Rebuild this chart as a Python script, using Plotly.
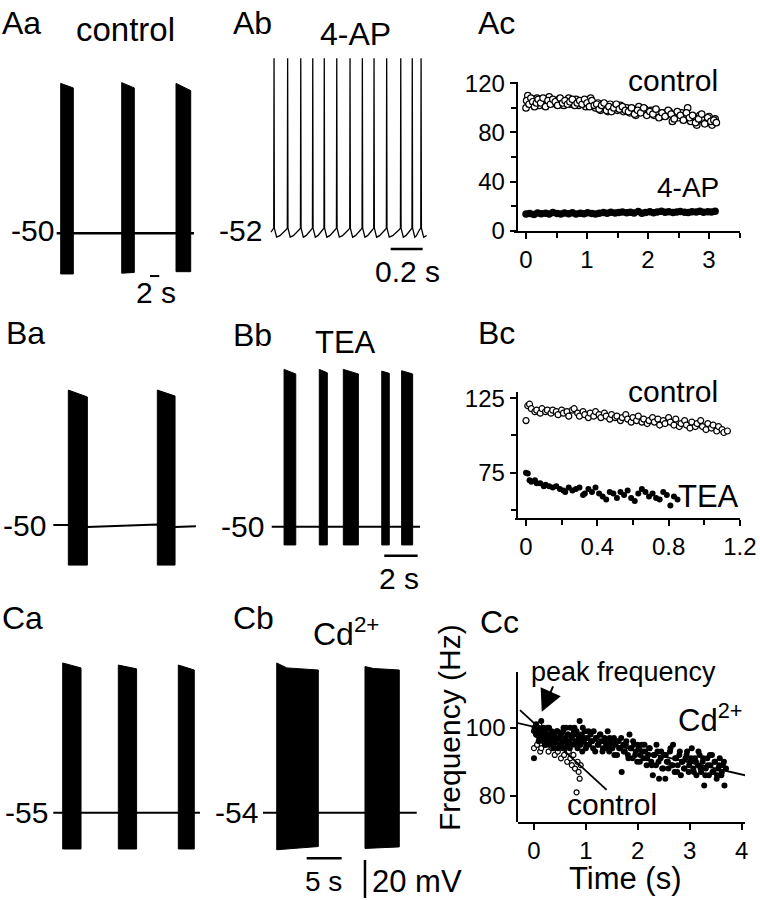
import plotly.graph_objects as go

W, H = 760, 900
FONT = "Liberation Sans, Arial, sans-serif"

# ---------------- DATA ----------------
# Aa: control bursts (time s, membrane potential mV)
aa_start = [0.86, 13.98, 25.66]
aa_end = [3.57, 16.69, 28.82]
aa_top0 = [28.9, 29.3, 28.9]
aa_top1 = [26.5, 26.5, 25.1]
aa_bot0 = [-71.4, -71.0, -70.2]
aa_bot1 = [-71.4, -70.6, -70.2]
aa_base_t = [0.0, 29.53]
aa_base_v = [-50.0, -50.0]
aa_bar_t = [20.06, 22.06]
aa_bar_v = [-72.5, -72.5]

# Ab: 4-AP single spikes
ab_spike_t = [0.019, 0.104, 0.186, 0.261, 0.333, 0.411, 0.494, 0.571, 0.644, 0.723, 0.811, 0.883, 0.938]
ab_spike_peak = 40.0
ab_rest = -52.0
ab_hump = -49.4
ab_ahp = -54.2
ab_end_t = 0.973
ab_bar_t = [0.748, 0.948]
ab_bar_v = [-60.4, -60.4]

# Ba: control bursts
ba_start = [0.90, 6.23]
ba_end = [2.04, 7.29]
ba_top0 = [21.0, 21.0]
ba_top1 = [17.4, 17.9]
ba_bot0 = [-71.1, -71.1]
ba_bot1 = [-71.1, -71.1]
ba_base_t = [0.0, 0.90, 2.04, 6.23, 7.29, 8.54]
ba_base_v = [-50.0, -50.0, -51.0, -49.7, -51.0, -50.6]

# Bb: TEA bursts
bb_start = [0.74, 2.85, 4.29, 6.59, 7.78]
bb_end = [1.44, 3.33, 5.19, 7.04, 8.44]
bb_top0 = [32.8, 32.8, 32.8, 31.9, 32.1]
bb_top1 = [30.4, 31.0, 30.4, 30.7, 30.4]
bb_bot0 = [-59.6, -59.6, -59.6, -59.6, -59.6]
bb_bot1 = [-59.6, -59.6, -59.6, -59.6, -59.6]
bb_base_t = [0.0, 8.88]
bb_base_v = [-50.0, -50.0]
bb_bar_t = [6.74, 8.74]
bb_bar_v = [-65.3, -65.3]

# Ca: control bursts
ca_start = [1.34, 9.29, 17.86]
ca_end = [3.96, 11.90, 20.14]
ca_top0 = [23.8, 22.7, 22.7]
ca_top1 = [21.2, 20.7, 20.1]
ca_bot0 = [-74.1, -74.1, -74.1]
ca_bot1 = [-74.1, -74.1, -74.1]
ca_base_t = [0.0, 20.95]
ca_base_v = [-55.0, -55.0]

# Cb: Cd2+ bursts
cb_start = [1.96, 14.57]
cb_end = [7.90, 19.47]
cb_top0 = [24.8, 22.9]
cb_knee_t = [3.40, 15.80]
cb_knee_v = [22.2, 21.9]
cb_top1 = [21.1, 21.1]
cb_bot0 = [-73.5, -72.8]
cb_bot1 = [-71.8, -72.0]
cb_base_t = [0.0, 21.96]
cb_base_v = [-54.0, -54.0]
cb_tbar_t = [6.24, 11.24]
cb_tbar_v = [-78.0, -78.0]
cb_vbar_t = [14.57, 14.57]
cb_vbar_v = [-78.9, -98.9]

# Ac: frequency vs time (Hz)
ac_ctrl_t = [0.00, 0.03, 0.06, 0.09, 0.12, 0.15, 0.18,
             0.22, 0.26, 0.30, 0.34, 0.38, 0.42, 0.46, 0.50, 0.54, 0.58, 0.62, 0.66, 0.70, 0.74, 0.78,
             0.82, 0.86, 0.90, 0.94, 0.98, 1.02, 1.06, 1.10, 1.14, 1.18, 1.22, 1.26, 1.30, 1.34, 1.38,
             1.42, 1.46, 1.50,
             1.55, 1.60, 1.65, 1.70, 1.75, 1.80, 1.85, 1.90, 1.95, 2.00, 2.05, 2.10, 2.15, 2.20, 2.25,
             2.30, 2.35, 2.40, 2.45, 2.50, 2.55, 2.60, 2.65, 2.70, 2.75, 2.80, 2.85, 2.90, 2.95, 3.00,
             3.05, 3.10]
ac_ctrl_f = [100, 110, 104, 107, 103, 106, 108,
             102, 105, 107, 103, 109, 104, 106, 103, 107, 105, 102, 106, 108, 103, 105,
             107, 102, 104, 106, 101, 105, 108, 103, 100, 104, 98, 102, 100, 97, 103,
             99, 101, 98,
             102, 97, 100, 96, 99, 94, 101, 97, 99, 95, 98, 94, 97, 93, 96,
             94, 97, 89, 95, 92, 96, 91, 100, 89, 93, 86, 94, 90, 88, 93,
             86, 91]
ac_ctrl2_t = [0.01, 0.05, 0.08, 0.11, 0.14, 0.17, 0.20, 0.24, 0.28, 0.32,
              0.36, 0.40, 0.44, 0.48, 0.52, 0.56, 0.60, 0.64, 0.68, 0.72,
              0.76, 0.80, 0.84, 0.88, 0.92, 0.96, 1.00, 1.04, 1.08, 1.12,
              1.16, 1.20, 1.24, 1.28, 1.32, 1.36, 1.40, 1.44, 1.48, 1.53,
              1.58, 1.63, 1.68, 1.73, 1.78, 1.83, 1.88, 1.93, 1.98, 2.03,
              2.08, 2.13, 2.18, 2.23, 2.28, 2.33, 2.38, 2.43, 2.48, 2.53,
              2.58, 2.63, 2.68, 2.73, 2.78, 2.83, 2.88, 2.93, 2.98, 3.03,
              3.08, 3.12]
ac_ctrl2_f = [106, 103, 108, 105, 101, 104, 107, 104, 108, 101,
              106, 103, 107, 105, 102, 108, 104, 106, 103, 105,
              107, 102, 104, 106, 103, 107, 104, 101, 106, 102,
              103, 99, 102, 104, 98, 101, 97, 100, 103, 99,
              101, 98, 97, 100, 95, 98, 96, 100, 94, 97,
              95, 99, 92, 96, 93, 98, 95, 91, 97, 94,
              90, 96, 92, 94, 88, 91, 95, 87, 92, 89,
              90, 88]
ac_4ap_t = [0.00, 0.06, 0.13, 0.19, 0.25, 0.32, 0.38, 0.44, 0.51, 0.57,
            0.63, 0.70, 0.76, 0.82, 0.89, 0.95, 1.01, 1.08, 1.14, 1.20,
            1.27, 1.33, 1.39, 1.46, 1.52, 1.58, 1.65, 1.71, 1.77, 1.84,
            1.90, 1.96, 2.03, 2.09, 2.15, 2.22, 2.28, 2.34, 2.41, 2.47,
            2.53, 2.60, 2.66, 2.72, 2.79, 2.85, 2.91, 2.98, 3.04, 3.10]
ac_4ap_f = [13.5, 14.0, 13.2, 14.5, 13.8, 14.2, 13.6, 14.8, 14.1, 13.7,
            14.4, 13.9, 14.6, 13.5, 14.2, 13.8, 14.7, 14.0, 13.6, 14.3,
            14.9, 14.2, 15.0, 14.4, 14.8, 15.3, 14.6, 15.1, 14.5, 15.6,
            14.2, 14.9, 15.4, 14.7, 15.2, 15.8, 15.0, 15.5, 14.8, 15.3,
            15.7, 15.1, 14.9, 15.4, 15.2, 15.8, 15.0, 15.5, 15.3, 15.9]

# Bc
bc_ctrl_t = [0.00, 0.01, 0.02, 0.03, 0.05, 0.06, 0.08, 0.09, 0.11, 0.12,
             0.14, 0.15, 0.17, 0.18, 0.20, 0.21, 0.23, 0.24, 0.26, 0.27,
             0.29, 0.30, 0.32, 0.33, 0.35, 0.36, 0.38, 0.39, 0.41, 0.42,
             0.44, 0.45, 0.47, 0.48, 0.50, 0.51, 0.53, 0.54, 0.56, 0.57,
             0.59, 0.60, 0.62, 0.63, 0.65, 0.66, 0.68, 0.69, 0.71, 0.72,
             0.74, 0.75, 0.77, 0.78, 0.80, 0.81, 0.83, 0.84, 0.86, 0.87,
             0.89, 0.90, 0.92, 0.93, 0.95, 0.96, 0.98, 0.99, 1.01, 1.02,
             1.04, 1.05, 1.07, 1.08, 1.10, 1.11, 1.13]
bc_ctrl_f = [110, 120, 121, 118, 116, 117, 115, 118, 116, 117,
             115, 117, 116, 114, 117, 115, 116, 113, 117, 118,
             115, 113, 116, 114, 112, 115, 113, 116, 114, 112,
             115, 113, 111, 114, 112, 113, 110, 112, 114, 111,
             109, 112, 110, 113, 109, 111, 108, 110, 112, 109,
             111, 107, 110, 108, 112, 109, 107, 111, 106, 108,
             110, 107, 105, 109, 106, 108, 110, 106, 104, 108,
             105, 107, 103, 106, 104, 102, 103]
bc_tea_t = [0.00, 0.01, 0.02, 0.03, 0.05, 0.06, 0.08, 0.10, 0.11, 0.13,
            0.15, 0.17, 0.19, 0.21, 0.22, 0.24, 0.26, 0.28, 0.30, 0.32,
            0.33, 0.35, 0.37, 0.39, 0.41, 0.43, 0.45, 0.47, 0.49, 0.51,
            0.53, 0.55, 0.57, 0.59, 0.61, 0.63, 0.65, 0.67, 0.69, 0.71,
            0.73, 0.75, 0.77, 0.79, 0.81, 0.83, 0.85]
bc_tea_f = [75, 74.5, 70, 69, 70, 68, 68, 66, 67, 66,
            65, 66, 64, 63, 62, 65, 63, 64, 65, 60,
            61, 64, 62, 65, 61, 59, 57, 62, 61, 58,
            62, 60, 63, 58, 56, 61, 64, 62, 59, 61,
            58, 57, 62, 60, 53, 59, 57]

# Cc
cc_cd_t = [0.00, 0.02, 0.04, 0.06, 0.08, 0.10, 0.12, 0.14, 0.16, 0.18,
           0.20, 0.22, 0.24, 0.26, 0.28, 0.30, 0.32, 0.34, 0.36, 0.38,
           0.40, 0.42, 0.44, 0.46, 0.48, 0.50, 0.52, 0.54, 0.56, 0.58,
           0.60, 0.62, 0.64, 0.66, 0.68, 0.70, 0.72, 0.74, 0.76, 0.78,
           0.80, 0.82, 0.84, 0.86, 0.88, 0.90, 0.92, 0.94, 0.96, 0.98,
           1.00, 1.03, 1.06, 1.09, 1.12, 1.15, 1.18, 1.21, 1.24, 1.27,
           1.30, 1.33, 1.36, 1.39, 1.42, 1.45, 1.48, 1.51, 1.54, 1.57,
           1.60, 1.63, 1.66, 1.69, 1.72, 1.75, 1.78, 1.81, 1.84, 1.87,
           1.90, 1.93, 1.96, 1.99, 2.02, 2.05, 2.08, 2.11, 2.14, 2.17,
           2.20, 2.23, 2.26, 2.29, 2.32, 2.35, 2.38, 2.41, 2.44, 2.47,
           2.50, 2.53, 2.56, 2.59, 2.62, 2.65, 2.68, 2.71, 2.74, 2.77,
           2.80, 2.83, 2.86, 2.89, 2.92, 2.95, 2.98, 3.01, 3.04, 3.07,
           3.10, 3.13, 3.16, 3.19, 3.22, 3.25, 3.28, 3.31, 3.34, 3.37,
           3.40, 3.43, 3.46, 3.49, 3.52, 3.55, 3.58, 3.61, 3.64, 3.67,
           3.70]
cc_cd_f = [91, 99, 101, 98, 100, 97, 99, 102, 98, 100,
           96, 99, 97, 100, 95, 98, 96, 99, 97, 95,
           98, 96, 99, 94, 97, 95, 98, 96, 99, 94,
           97, 100, 95, 98, 96, 100, 97, 95, 98, 100,
           96, 99, 94, 97, 102, 95, 98, 100, 96, 99,
           94, 97, 95, 98, 96, 99, 93, 97, 95, 98,
           96, 94, 97, 95, 99, 93, 96, 94, 97, 95,
           92, 96, 94, 87, 95, 93, 96, 92, 98, 94,
           91, 95, 93, 90, 94, 92, 95, 91, 93, 89,
           92, 94, 90, 86, 92, 89, 93, 85, 91, 88,
           92, 85, 90, 88, 93, 89, 95, 87, 91, 89,
           92, 86, 90, 88, 91, 93, 87, 90, 94, 88,
           91, 86, 89, 92, 87, 90, 83, 88, 91, 86,
           89, 92, 87, 90, 85, 88, 91, 86, 89, 83,
           88]
cc_cd2_t = [0.01, 0.05, 0.09, 0.13, 0.17, 0.21, 0.25, 0.29, 0.33, 0.37,
            0.41, 0.45, 0.49, 0.53, 0.57, 0.61, 0.65, 0.69, 0.73, 0.77,
            0.81, 0.85, 0.89, 0.93, 0.97, 1.01, 1.05, 1.10, 1.14, 1.19,
            1.23, 1.28, 1.32, 1.37, 1.41, 1.46, 1.50, 1.55, 1.59, 1.64,
            1.68, 1.73, 1.77, 1.82, 1.86, 1.91, 1.95, 2.00, 2.04, 2.09,
            2.13, 2.18, 2.22, 2.27, 2.31, 2.36, 2.40, 2.45, 2.49, 2.54,
            2.58, 2.63, 2.67, 2.72, 2.76, 2.81, 2.85, 2.90, 2.94, 2.99,
            3.03, 3.08, 3.12, 3.17, 3.21, 3.26, 3.30, 3.35, 3.39, 3.44,
            3.48, 3.53, 3.57, 3.62, 3.66]
cc_cd2_f = [100, 98, 96, 99, 97, 95, 98, 100, 97, 94,
            96, 99, 97, 95, 100, 96, 98, 94, 97, 99,
            95, 98, 96, 93, 97, 95, 99, 96, 94, 97,
            95, 98, 93, 96, 94, 97, 95, 92, 96, 94,
            97, 93, 95, 91, 94, 96, 92, 95, 90, 93,
            95, 91, 94, 89, 92, 95, 90, 93, 88, 92,
            90, 94, 89, 91, 87, 93, 90, 88, 92, 89,
            91, 87, 90, 93, 88, 91, 86, 89, 92, 87,
            90, 86, 89, 87, 90]
cc_ctrl_t = [0.00, 0.00, 0.02, 0.04, 0.06, 0.08, 0.10, 0.12, 0.12, 0.14,
             0.16, 0.18, 0.20, 0.22, 0.25, 0.28, 0.31, 0.34, 0.37, 0.40,
             0.43, 0.46, 0.49, 0.52, 0.55, 0.58, 0.61, 0.64, 0.67, 0.70,
             0.73, 0.76, 0.79, 0.82, 0.84, 0.86, 0.88, 0.90]
cc_ctrl_f = [94, 99, 100, 98, 95, 99, 101, 93, 97, 94,
             98, 96, 99, 95, 97, 93, 96, 94, 97, 92,
             95, 93, 96, 91, 94, 92, 95, 90, 93, 91,
             89, 92, 88, 81, 90, 87, 85, 89]
cc_cd_fit_t = [-0.43, 4.19]
cc_cd_fit_f = [101.8, 85.6]
cc_ctrl_fit_t = [-0.27, 1.40]
cc_ctrl_fit_f = [105.2, 81.7]
cc_peak_t, cc_peak_f = 0.15, 104.7

# ---------------- FIGURE ----------------
fig = go.Figure()
layout = {}


def trace_axes(n, box, x0px, pps, yrefpx, yref, ppm):
    L, R, T, B = box
    layout[f"xaxis{n}"] = dict(domain=[L / W, R / W], range=[(L - x0px) / pps, (R - x0px) / pps],
                               visible=False, anchor=f"y{n}", fixedrange=True, automargin=False)
    layout[f"yaxis{n}"] = dict(domain=[1 - B / H, 1 - T / H],
                               range=[yref - (B - yrefpx) / ppm, yref + (yrefpx - T) / ppm],
                               visible=False, anchor=f"x{n}", fixedrange=True, automargin=False)


def bursts(starts, ends, top0, top1, bot0, bot1, knee_t=None, knee_v=None):
    xs, ys = [], []
    for i in range(len(starts)):
        xs += [starts[i], starts[i]]
        ys += [bot0[i], top0[i]]
        if knee_t is not None:
            xs.append(knee_t[i]); ys.append(knee_v[i])
        xs += [ends[i], ends[i], starts[i], None]
        ys += [top1[i], bot1[i], bot0[i], None]
    return xs, ys


def add_line(x, y, n, width=2.0):
    fig.add_trace(go.Scatter(x=x, y=y, mode="lines", line=dict(color="black", width=width),
                             xaxis=f"x{n}", yaxis=f"y{n}", hoverinfo="skip", showlegend=False))


def add_bursts(n, xs, ys):
    fig.add_trace(go.Scatter(x=xs, y=ys, mode="lines", fill="toself", fillcolor="black",
                             line=dict(color="black", width=1), xaxis=f"x{n}", yaxis=f"y{n}",
                             hoverinfo="skip", showlegend=False))


# panel 1: Aa
trace_axes(1, (40, 210, 70, 305), 56.7, 4.65, 233.3, -50, 1.9)
add_line(aa_base_t, aa_base_v, 1, 2.5)
add_bursts(1, *bursts(aa_start, aa_end, aa_top0, aa_top1, aa_bot0, aa_bot1))
add_line(aa_bar_t, aa_bar_v, 1, 2)

# panel 2: Ab
trace_axes(2, (262, 440, 45, 285), 271, 160, 233, -52, 1.9)
abx, aby = [0.0], [ab_rest + 0.5]
for i, ts in enumerate(ab_spike_t):
    abx += [ts - 0.010, ts - 0.002, ts, ts + 0.002, ts + 0.016]
    aby += [ab_rest + 1.7, ab_hump, ab_spike_peak, ab_hump, ab_ahp]
    if i + 1 < len(ab_spike_t):
        gap = ab_spike_t[i + 1] - ts
        abx.append(ts + 0.016 + 0.35 * (gap - 0.026))
        aby.append(ab_ahp + 0.8)
abx.append(ab_end_t); aby.append(ab_ahp + 0.9)
add_line(abx, aby, 2, 1.3)
add_line(ab_bar_t, ab_bar_v, 2, 2.5)

# panel 3: Ba
trace_axes(3, (40, 210, 375, 585), 53.3, 16.7, 525, -50, 1.9)
add_line(ba_base_t, ba_base_v, 3, 2)
add_bursts(3, *bursts(ba_start, ba_end, ba_top0, ba_top1, ba_bot0, ba_bot1))

# panel 4: Bb
trace_axes(4, (262, 430, 355, 592), 271.7, 16.7, 526.7, -50, 1.9)
add_line(bb_base_t, bb_base_v, 4, 2)
add_bursts(4, *bursts(bb_start, bb_end, bb_top0, bb_top1, bb_bot0, bb_bot1))
add_line(bb_bar_t, bb_bar_v, 4, 2.5)

# panel 5: Ca
trace_axes(5, (40, 210, 650, 860), 53.3, 7.0, 812.7, -55, 1.9)
add_line(ca_base_t, ca_base_v, 5, 2)
add_bursts(5, *bursts(ca_start, ca_end, ca_top0, ca_top1, ca_bot0, ca_bot1))

# panel 6: Cb
trace_axes(6, (255, 430, 650, 900), 263, 7.0, 812.7, -54, 1.9)
add_line(cb_base_t, cb_base_v, 6, 2)
add_bursts(6, *bursts(cb_start, cb_end, cb_top0, cb_top1, cb_bot0, cb_bot1, cb_knee_t, cb_knee_v))
add_line(cb_tbar_t, cb_tbar_v, 6, 2.5)
add_line(cb_vbar_t, cb_vbar_v, 6, 2.5)

# scatter panels
axis_common = dict(showline=True, linecolor="black", linewidth=2, ticks="outside", ticklen=6,
                   tickwidth=2, tickcolor="black", showgrid=False, zeroline=False, automargin=False,
                   tickfont=dict(family=FONT, size=24, color="black"), fixedrange=True)

layout["xaxis7"] = dict(axis_common, domain=[514 / W, 740 / W], range=[-0.197, 3.508], anchor="y7",
                        tick0=0, dtick=1, minor=dict(dtick=0.5, ticks="outside", ticklen=5, tickwidth=2))
layout["yaxis7"] = dict(axis_common, domain=[1 - 230.7 / H, 1 - 82 / H], range=[0, 121.1], anchor="free",
                        position=516.7 / W, tick0=0, dtick=40,
                        minor=dict(dtick=20, ticks="outside", ticklen=5, tickwidth=2))
layout["xaxis8"] = dict(axis_common, domain=[515 / W, 740 / W], range=[-0.0617, 1.2005], anchor="y8",
                        tick0=0, dtick=0.4, minor=dict(dtick=0.2, ticks="outside", ticklen=5, tickwidth=2))
layout["yaxis8"] = dict(axis_common, domain=[1 - 518.3 / H, 1 - 391.7 / H], range=[44.4, 129.4],
                        anchor="free", position=516.7 / W, tick0=75, dtick=50,
                        minor=dict(dtick=25, ticks="outside", ticklen=5, tickwidth=2))
layout["xaxis9"] = dict(axis_common, domain=[518 / W, 745 / W], range=[-0.308, 4.066], anchor="y9",
                        tick0=0, dtick=1)
layout["yaxis9"] = dict(axis_common, domain=[1 - 821.7 / H, 1 - 671.7 / H], range=[72.35, 116.5],
                        anchor="free", position=517.3 / W, tick0=80, dtick=20)


def add_pts(x, y, n, filled, size):
    if filled:
        m = dict(symbol="circle", size=size, color="black", line=dict(width=0))
    else:
        m = dict(symbol="circle", size=size, color="white", line=dict(color="black", width=1.2))
    fig.add_trace(go.Scatter(x=x, y=y, mode="markers", marker=m, xaxis=f"x{n}", yaxis=f"y{n}",
                             cliponaxis=False, hoverinfo="skip", showlegend=False))


add_pts(ac_ctrl_t + ac_ctrl2_t, ac_ctrl_f + ac_ctrl2_f, 7, False, 6.5)
add_pts(ac_4ap_t, ac_4ap_f, 7, True, 7.5)
add_pts(bc_ctrl_t, bc_ctrl_f, 8, False, 6)
add_pts(bc_tea_t, bc_tea_f, 8, True, 6)
add_pts(cc_ctrl_t, cc_ctrl_f, 9, False, 5)
add_pts(cc_cd_t + cc_cd2_t, cc_cd_f + cc_cd2_f, 9, True, 6)
add_line(cc_cd_fit_t, cc_cd_fit_f, 9, 1.8)
add_line(cc_ctrl_fit_t, cc_ctrl_fit_f, 9, 1.8)

# ---------------- TEXT ----------------
ann = []


def ptext(text, xpx, ypx, size, xanchor="center", **kw):
    d = dict(text=text, x=xpx / W, y=1 - ypx / H, xref="paper", yref="paper", showarrow=False,
             xanchor=xanchor, yanchor="middle", font=dict(family=FONT, size=size, color="black"))
    d.update(kw)
    ann.append(d)


def dtext(text, n, x, y, size, xanchor="right", xshift=0, yshift=0):
    ann.append(dict(text=text, x=x, y=y, xref=f"x{n}", yref=f"y{n}", showarrow=False,
                    xanchor=xanchor, yanchor="middle", xshift=xshift, yshift=yshift,
                    font=dict(family=FONT, size=size, color="black")))


# panel letters
for t, xp, yp in [("Aa", 0, 23), ("Ab", 231, 23), ("Ac", 476, 23),
                  ("Ba", 4, 333), ("Bb", 231, 335), ("Bc", 476, 333),
                  ("Ca", 0, 618), ("Cb", 231, 618), ("Cc", 478, 622)]:
    ptext(t, xp, yp, 32, xanchor="left")

ptext("control", 126, 29, 33)
ptext("4-AP", 355, 34, 32)
ptext("TEA", 345, 342, 31)
ptext("Cd<sup>2+</sup>", 346, 632, 32)

ptext("control", 673, 80, 30)
ptext("4-AP", 688, 187, 28)
ptext("control", 673, 392, 30)
ptext("TEA", 708, 496, 31)
ptext("peak frequency", 623, 672, 27)
ptext("Cd<sup>2+</sup>", 710, 718, 31)
ptext("control", 612, 804, 30)
ptext("Frequency (Hz)", 449, 728, 30, textangle=-90)
ptext("Time (s)", 625, 878, 31)

# baseline potentials
dtext("-50", 1, 0, aa_base_v[0], 30, xshift=-1, yshift=3)
dtext("-52", 2, 0, ab_rest, 30, xshift=-7, yshift=3)
dtext("-50", 3, 0, ba_base_v[0], 30, xshift=-5, yshift=0)
dtext("-50", 4, 0, bb_base_v[0], 30, xshift=-6, yshift=0)
dtext("-55", 5, 0, ca_base_v[0], 30, xshift=-3, yshift=0)
dtext("-54", 6, 0, cb_base_v[0], 30, xshift=-3, yshift=0)

# scale bar labels
dtext("2 s", 1, 21.4, -81.4, 30, xanchor="center")
dtext("0.2 s", 2, 0.853, -72.5, 30, xanchor="center")
dtext("2 s", 4, 7.62, -77.0, 30, xanchor="center")
dtext("5 s", 6, 8.64, -90.3, 28, xanchor="center")
dtext("20 mV", 6, 15.29, -90.3, 31, xanchor="left")

# peak frequency arrow
ann.append(dict(text="", x=cc_peak_t, y=cc_peak_f, xref="x9", yref="y9", showarrow=True,
                ax=12, ay=-27, arrowhead=2, arrowsize=2.2, arrowwidth=2, arrowcolor="black"))

layout["annotations"] = ann
fig.update_layout(**layout)
fig.update_layout(width=W, height=H, autosize=False,
                  margin=dict(l=0, r=0, t=0, b=0, pad=0, autoexpand=False),
                  paper_bgcolor="white", plot_bgcolor="rgba(0,0,0,0)",
                  showlegend=False, font=dict(family=FONT, color="black"))

fig.write_html("out.html", config={"displayModeBar": False, "responsive": False},
               post_script="document.body.style.margin='0px';document.body.style.overflow='hidden';")
